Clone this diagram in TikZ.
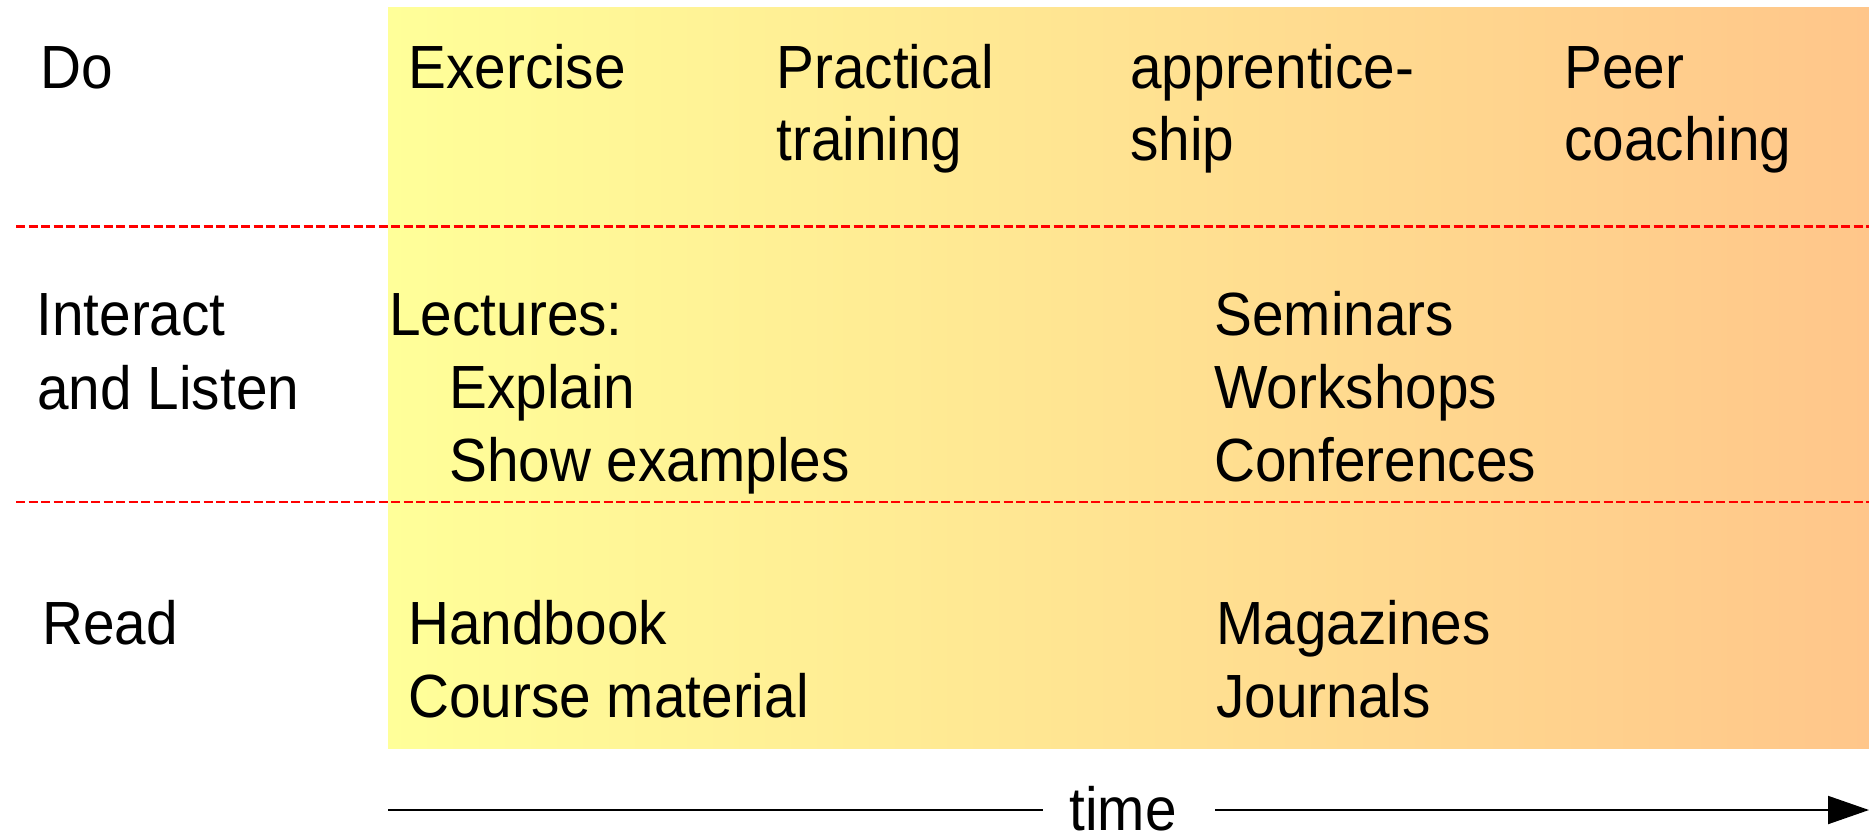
\documentclass[tikz,border=0pt]{standalone}
\usepackage{fontspec}
\setmainfont{Liberation Sans}[FakeStretch=0.93]
\usetikzlibrary{arrows.meta}
\definecolor{ylw}{RGB}{255,255,153}
\definecolor{org}{RGB}{255,198,138}
\begin{document}
\begin{tikzpicture}[x=0.5pt,y=-0.5pt,
  lbl/.style={anchor=base west,inner sep=0pt,text=black,font=\fontsize{30.5pt}{36pt}\selectfont},
  sep/.style={red,line width=1.2pt,dash pattern=on 4.5pt off 1.75pt},
  axis/.style={black,line width=1pt}]
\useasboundingbox (0,0) rectangle (1869,832);
\shade[left color=ylw,right color=org] (388,7) rectangle (1869,748);
% separators
\coordinate (s1a) at (16,226.5);
\coordinate (s1b) at (1869,226.5);
\coordinate (s2a) at (16,502);
\coordinate (s2b) at (1869,502);
\draw[sep] (s1a) -- (s1b);
\draw[sep] (s2a) -- (s2b);
% row 1
\node[lbl] (do) at (40,88) {Do};
\node[lbl] (exercise) at (408,88) {Exercise};
\node[lbl] (practical) at (776,88) {Practical};
\node[lbl] (training) at (776,160) {training};
\node[lbl] (appr) at (1130,88) {apprentice-};
\node[lbl] (ship) at (1130,160) {ship};
\node[lbl] (peer) at (1564,88) {Peer};
\node[lbl] (coaching) at (1564,160) {coaching};
% row 2
\node[lbl] (interact) at (36,335) {Interact};
\node[lbl] (listen) at (37,409) {and Listen};
\node[lbl] (lectures) at (389,335) {Lectures:};
\node[lbl] (explain) at (449,408) {Explain};
\node[lbl] (show) at (449,481) {Show examples};
\node[lbl] (seminars) at (1214,335) {Seminars};
\node[lbl] (workshops) at (1214,408) {Workshops};
\node[lbl] (conf) at (1214,481) {Conferences};
% row 3
\node[lbl] (read) at (42,644) {Read};
\node[lbl] (handbook) at (408,644) {Handbook};
\node[lbl] (course) at (408,717) {Course material};
\node[lbl] (magazines) at (1216,644) {Magazines};
\node[lbl] (journals) at (1216,717) {Journals};
% time axis
\coordinate (tstart) at (388,810);
\coordinate (tend) at (1869,810);
\node[lbl,anchor=base] (time) at (1123,830) {time};
\draw[axis] (tstart) -- ([xshift=-13pt]tstart -| time.west);
\draw[axis,-{Triangle[length=20.5pt,width=14pt]}] ([xshift=19pt]tstart -| time.east) -- (tend);
\end{tikzpicture}
\end{document}
